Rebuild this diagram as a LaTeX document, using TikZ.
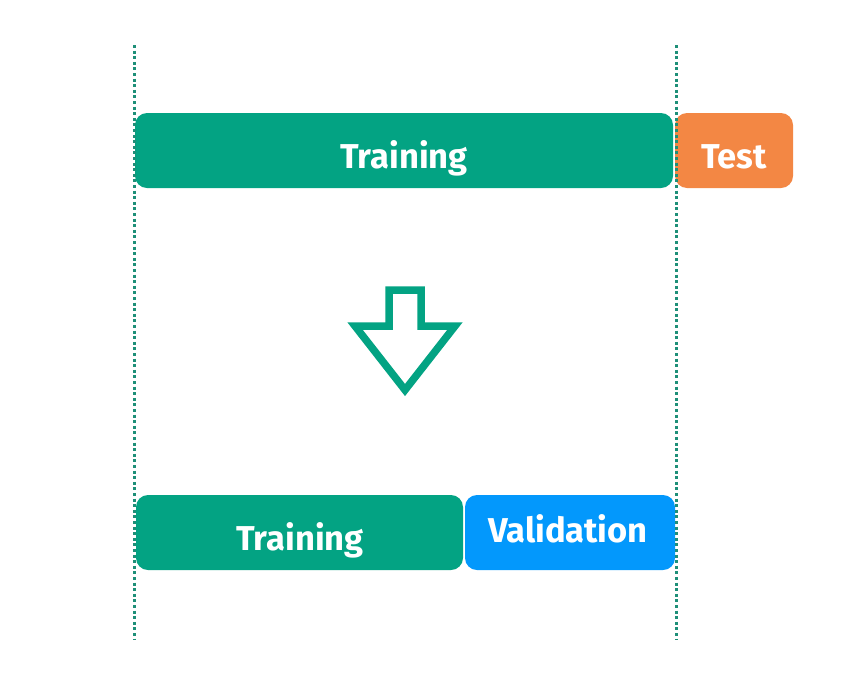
\documentclass[tikz,border=0pt]{standalone}
\usepackage{fontspec}
\setmainfont{Fira Sans}
\definecolor{tgreen}{HTML}{03A383}
\definecolor{torange}{HTML}{F38744}
\definecolor{tblue}{HTML}{0398FC}
\definecolor{tdot}{HTML}{1E8F78}
\begin{document}
\begin{tikzpicture}[x=1pt,y=-1pt,
  guide/.style={tdot,line width=3pt,dash pattern=on 3pt off 2.6pt},
  lbl/.style={text=white,font=\bfseries\fontsize{34.5}{38}\selectfont,inner sep=0pt,anchor=base}]
\useasboundingbox (0,0) rectangle (855,697);
% guides
\coordinate (g1t) at (134,45);
\coordinate (g1b) at (134,640);
\coordinate (g2t) at (676,45);
\coordinate (g2b) at (676,640);
% boxes
\fill[tgreen,rounded corners=12pt] (135,113) rectangle (673,188);
\fill[torange,rounded corners=12pt] (675,113) rectangle (793,188);
\fill[tgreen,rounded corners=12pt] (136,495) rectangle (463,570);
\fill[tblue,rounded corners=12pt] (465,495) rectangle (675,570);
\draw[guide] (g1t) -- (g1b);
\draw[guide] (g2t) -- (g2b);
% labels
\node[lbl] (t1) at (404,168) {Training};
\node[lbl] (t2) at (734,168) {Test};
\node[lbl] (t3) at (300,550) {Training};
\node[lbl] (t4) at (568,542) {Validation};
% arrow
\draw[tgreen,line width=7.5pt,line join=miter] (389,290) -- (421,290) -- (421,326) -- (455,326) -- (405,390) -- (355,326) -- (389,326) -- cycle;
\end{tikzpicture}
\end{document}
